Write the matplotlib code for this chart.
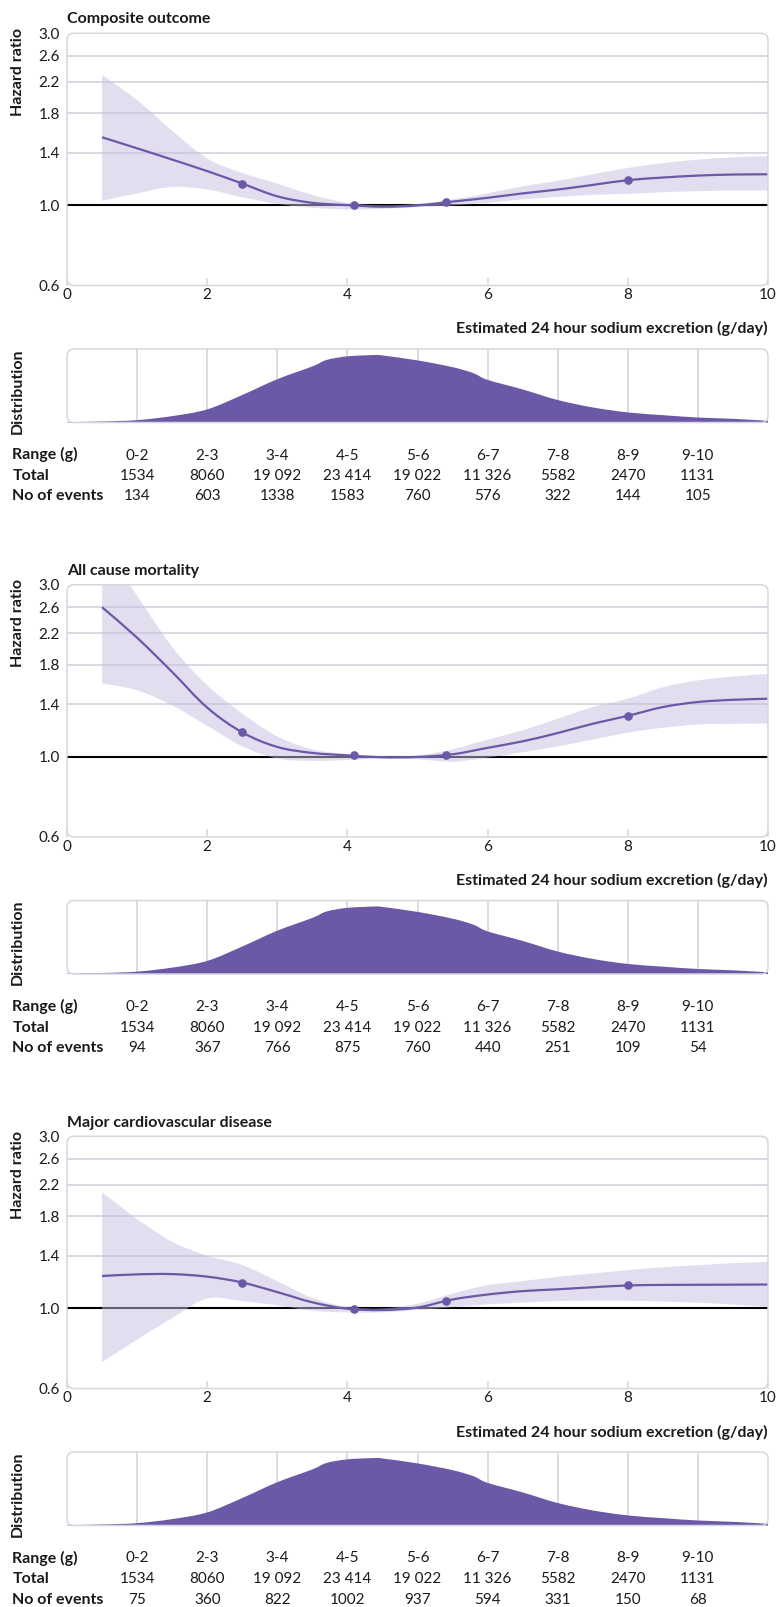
import numpy as np
import matplotlib
matplotlib.use("Agg")
import matplotlib.pyplot as plt
from matplotlib.patches import FancyBboxPatch, PathPatch
from matplotlib.path import Path
from matplotlib.transforms import blended_transform_factory
from matplotlib.ticker import FixedLocator, FixedFormatter, NullLocator

plt.rcParams['font.family'] = ['Lato', 'DejaVu Sans']

# ---------------- data ----------------
titles = ["Composite outcome", "All cause mortality", "Major cardiovascular disease"]

x_curve = [0.5, 1.0, 1.5, 2.0, 2.5, 3.0, 3.5, 4.0, 4.5, 5.0,
           5.5, 6.0, 6.5, 7.0, 7.5, 8.0, 8.5, 9.0, 9.5, 10.0]

hr_composite = [1.545, 1.44, 1.34, 1.245, 1.15, 1.06, 1.017, 1.002, 0.992, 1.0,
                1.025, 1.05, 1.08, 1.107, 1.14, 1.175, 1.195, 1.21, 1.218, 1.22]
up_composite = [2.30, 1.96, 1.61, 1.35, 1.23, 1.15, 1.07, 1.017, 1.0, 1.01,
                1.04, 1.08, 1.13, 1.17, 1.22, 1.27, 1.31, 1.34, 1.36, 1.37]
lo_composite = [1.03, 1.08, 1.126, 1.107, 1.054, 1.01, 0.985, 0.975, 0.978, 0.99,
                1.0, 1.017, 1.04, 1.055, 1.07, 1.077, 1.088, 1.095, 1.10, 1.10]

hr_mortality = [2.60, 2.14, 1.72, 1.37, 1.17, 1.066, 1.026, 1.01, 0.998, 1.0,
                1.017, 1.06, 1.105, 1.165, 1.236, 1.30, 1.375, 1.42, 1.44, 1.45]
up_mortality = [3.9, 2.80, 2.02, 1.58, 1.32, 1.14, 1.05, 1.02, 1.005, 1.01,
                1.05, 1.117, 1.185, 1.277, 1.375, 1.45, 1.56, 1.63, 1.67, 1.70]
lo_mortality = [1.60, 1.53, 1.39, 1.22, 1.07, 0.99, 0.975, 0.98, 0.99, 0.985,
                0.97, 0.996, 1.03, 1.07, 1.117, 1.168, 1.205, 1.23, 1.236, 1.237]

hr_cvd = [1.23, 1.243, 1.245, 1.225, 1.18, 1.11, 1.04, 0.998, 0.99, 1.006,
          1.059, 1.093, 1.117, 1.13, 1.145, 1.158, 1.162, 1.163, 1.164, 1.165]
up_cvd = [2.10, 1.77, 1.53, 1.40, 1.32, 1.19, 1.07, 1.01, 1.0, 1.03,
          1.10, 1.16, 1.19, 1.224, 1.25, 1.277, 1.30, 1.318, 1.335, 1.346]
lo_cvd = [0.71, 0.82, 0.94, 1.066, 1.048, 1.02, 0.985, 0.975, 0.975, 0.99,
          1.008, 1.026, 1.038, 1.048, 1.05, 1.05, 1.045, 1.037, 1.025, 1.01]

marker_x = [2.5, 4.1, 5.4, 8.0]
marker_composite = [1.15, 1.0, 1.02, 1.175]
marker_mortality = [1.17, 1.01, 1.01, 1.30]
marker_cvd = [1.18, 0.996, 1.048, 1.158]

dist_x = [0.0, 0.5, 1.0, 1.5, 2.0, 2.5, 3.0, 3.5, 3.7, 4.0, 4.4, 4.5, 5.0,
          5.5, 5.8, 6.0, 6.5, 7.0, 7.5, 8.0, 8.5, 9.0, 9.5, 10.0]
dist_y = [0.005, 0.014, 0.032, 0.087, 0.178, 0.374, 0.589, 0.763, 0.85, 0.90, 0.918, 0.912, 0.845,
          0.753, 0.67, 0.58, 0.45, 0.306, 0.205, 0.137, 0.10, 0.068, 0.05, 0.023]

ranges = ["0-2", "2-3", "3-4", "4-5", "5-6", "6-7", "7-8", "8-9", "9-10"]
totals = ["1534", "8060", "19 092", "23 414", "19 022", "11 326", "5582", "2470", "1131"]
events_composite = ["134", "603", "1338", "1583", "760", "576", "322", "144", "105"]
events_mortality = ["94", "367", "766", "875", "760", "440", "251", "109", "54"]
events_cvd = ["75", "360", "822", "1002", "937", "594", "331", "150", "68"]

y_ticks = [0.6, 1.0, 1.4, 1.8, 2.2, 2.6, 3.0]
x_ticks = [0, 2, 4, 6, 8, 10]

panels = [
    (titles[0], hr_composite, up_composite, lo_composite, marker_composite, events_composite),
    (titles[1], hr_mortality, up_mortality, lo_mortality, marker_mortality, events_mortality),
    (titles[2], hr_cvd, up_cvd, lo_cvd, marker_cvd, events_cvd),
]

# ---------------- style ----------------
W, H, DPI = 779, 1607, 100
PURPLE = '#6B58A6'
BAND = '#C6BFE2'
GRID = '#D5D7DE'
TXT = '#1a1a1a'

fig = plt.figure(figsize=(W / DPI, H / DPI), dpi=DPI)
fig.patch.set_facecolor('white')


def fx(px):
    return px / W


def fy(py):
    return 1 - py / H


def rounded_box(x0, y0, x1, y1):
    p = FancyBboxPatch((x0 / DPI, (H - y1) / DPI), (x1 - x0) / DPI, (y1 - y0) / DPI,
                       boxstyle="round,pad=0,rounding_size=0.07",
                       transform=fig.dpi_scale_trans, facecolor='none',
                       edgecolor=GRID, linewidth=1.1, zorder=10)
    fig.add_artist(p)


def smooth_segments(xs, ys, logy=False):
    """Catmull-Rom smoothing rendered as cubic Bezier path segments."""
    x = np.asarray(xs, float)
    y = np.log(np.asarray(ys, float)) if logy else np.asarray(ys, float)
    n = len(x)
    verts = [(x[0], y[0])]
    for i in range(n - 1):
        i0 = max(i - 1, 0)
        i3 = min(i + 2, n - 1)
        c1 = (x[i] + (x[i + 1] - x[i0]) / 6, y[i] + (y[i + 1] - y[i0]) / 6)
        c2 = (x[i + 1] - (x[i3] - x[i]) / 6, y[i + 1] - (y[i3] - y[i]) / 6)
        verts += [c1, c2, (x[i + 1], y[i + 1])]
    verts = np.array(verts)
    if logy:
        verts[:, 1] = np.exp(verts[:, 1])
    return verts


def smooth_line_path(xs, ys, logy=False):
    v = smooth_segments(xs, ys, logy)
    codes = [Path.MOVETO] + [Path.CURVE4] * (len(v) - 1)
    return Path(v, codes)


def smooth_band_path(xs, lo, up, logy=False):
    vu = smooth_segments(xs, up, logy)
    vl = smooth_segments(xs[::-1], lo[::-1], logy)
    v = np.vstack([vu, vl, vu[:1]])
    codes = ([Path.MOVETO] + [Path.CURVE4] * (len(vu) - 1) +
             [Path.LINETO] + [Path.CURVE4] * (len(vl) - 1) + [Path.CLOSEPOLY])
    return Path(v, codes)


L, R = 67, 768
STEP = 551.5

for k, (title, hr, up, lo, mk, ev) in enumerate(panels):
    dy = STEP * k
    top, bot = 33.3 + dy, 285.5 + dy
    ax = fig.add_axes([fx(L), fy(bot), fx(R - L), (bot - top) / H])
    ax.set_yscale('log')
    ax.set_xlim(0, 10)
    ax.set_ylim(0.6, 3.0)
    for s in ax.spines.values():
        s.set_visible(False)
    ax.yaxis.set_major_locator(FixedLocator(y_ticks))
    ax.yaxis.set_major_formatter(FixedFormatter([f"{v:.1f}" for v in y_ticks]))
    ax.yaxis.set_minor_locator(NullLocator())
    ax.set_xticks(x_ticks)
    ax.set_xticklabels([str(v) for v in x_ticks])
    ax.tick_params(axis='y', length=0, pad=5, labelsize=11, labelcolor=TXT)
    ax.tick_params(axis='x', direction='in', length=6, width=1.1, color=GRID,
                   pad=2, labelsize=11, labelcolor=TXT)
    for g in y_ticks[2:-1]:
        ax.axhline(g, color=GRID, lw=1.3, zorder=1)
    ax.axhline(1.0, color='black', lw=1.5, zorder=2)
    band = PathPatch(smooth_band_path(x_curve, lo, up, logy=True),
                     facecolor=BAND, alpha=0.5, lw=0, zorder=3)
    ax.add_patch(band)
    line = PathPatch(smooth_line_path(x_curve, hr, logy=True), facecolor='none',
                     edgecolor=PURPLE, lw=1.6, zorder=4)
    ax.add_patch(line)
    ax.plot(marker_x, mk, 'o', color=PURPLE, ms=5.2, zorder=5)
    rounded_box(L, top, R, bot)

    fig.text(fx(L), fy(23.5 + dy), title, fontsize=11.5, fontweight='bold',
             color=TXT, va='baseline', ha='left')
    fig.text(fx(18), fy(72 + dy), "Hazard ratio", rotation=90, fontsize=11.5,
             fontweight='bold', color=TXT, ha='center', va='center')
    fig.text(fx(R), fy(333.5 + dy), "Estimated 24 hour sodium excretion (g/day)",
             fontsize=11.5, fontweight='bold', color=TXT, ha='right', va='baseline')

    # distribution
    dtop, dbot = 349 + dy, 422.5 + dy
    axd = fig.add_axes([fx(L), fy(dbot), fx(R - L), (dbot - dtop) / H])
    axd.set_xlim(0, 10)
    axd.set_ylim(0, 1.0)
    axd.axis('off')
    for v in range(1, 10):
        axd.axvline(v, color=GRID, lw=1.2, zorder=1)
    dv = smooth_segments(dist_x, dist_y)
    dverts = np.vstack([dv, [[dist_x[-1], 0], [dist_x[0], 0], dv[0]]])
    dcodes = [Path.MOVETO] + [Path.CURVE4] * (len(dv) - 1) + [Path.LINETO, Path.LINETO, Path.CLOSEPOLY]
    axd.add_patch(PathPatch(Path(dverts, dcodes), facecolor=PURPLE, lw=0, zorder=2))
    rounded_box(L, dtop, R, dbot)
    fig.text(fx(18), fy(391 + dy), "Distribution", rotation=90, fontsize=11.5,
             fontweight='bold', color=TXT, ha='center', va='center')

    # table
    tr = blended_transform_factory(axd.transData, fig.transFigure)
    row_y = [459.5 + dy, 480 + dy, 500.5 + dy]
    row_names = ["Range (g)", "Total", "No of events"]
    row_vals = [ranges, totals, ev]
    for yy, name, vals in zip(row_y, row_names, row_vals):
        fig.text(fx(12.5), fy(yy), name, fontsize=11.5, fontweight='bold',
                 color=TXT, ha='left', va='baseline')
        for i, val in enumerate(vals):
            axd.text(i + 1, fy(yy), val, transform=tr, fontsize=11, color=TXT,
                     ha='center', va='baseline', clip_on=False)

fig.savefig("out.png", dpi=DPI, facecolor='white')
